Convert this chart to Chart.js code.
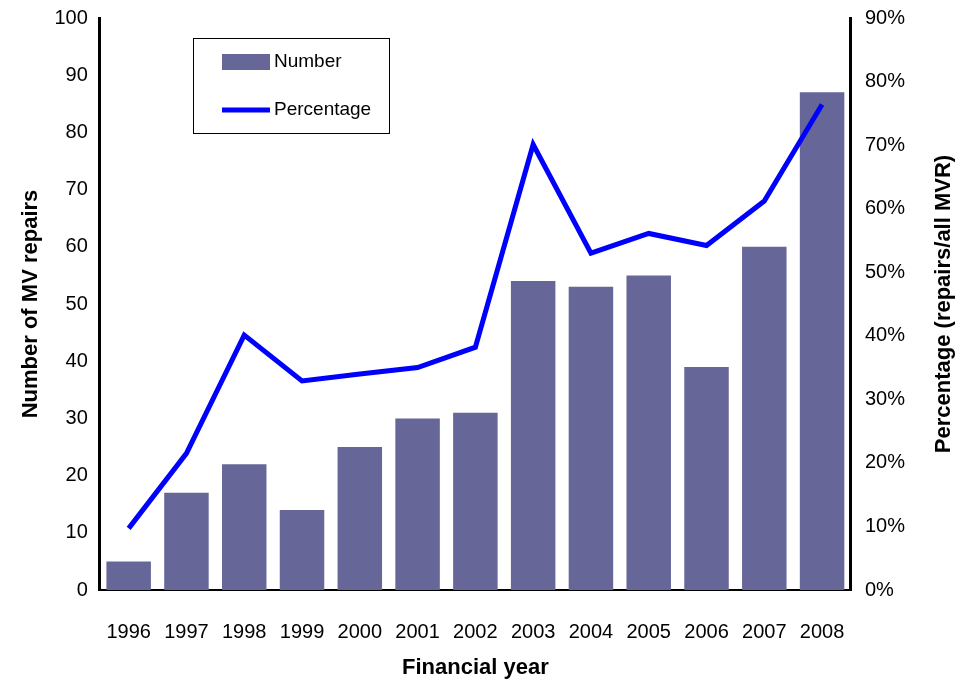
<!DOCTYPE html>
<html><head><meta charset="utf-8">
<script src="https://cdn.jsdelivr.net/npm/chart.js@4/dist/chart.umd.min.js"></script>
<style>html,body{margin:0;background:#fff}#w{width:962px;height:686px}</style>
</head><body><div id="w"><canvas id="c"></canvas></div>
<script>
const years=['1996','1997','1998','1999','2000','2001','2002','2003','2004','2005','2006','2007','2008'];
const numbers=[5,17,22,14,25,30,31,54,53,55,39,60,87];
const percentages=[9.7,21.5,40.1,32.9,34,35,38.2,70.1,53,56.1,54.2,61.2,76.4];
const leftTicks=[0,10,20,30,40,50,60,70,80,90,100];
const F='"Liberation Sans", Arial, sans-serif';
const legendPlugin={id:'lg',afterDraw(ch){const c=ch.ctx;c.save();
c.strokeStyle='#000';c.lineWidth=1;c.strokeRect(193.5,38.5,196,95);
c.fillStyle='#666699';c.fillRect(222,54,48,16);
c.strokeStyle='#0000ff';c.lineWidth=5;c.beginPath();c.moveTo(222,110);c.lineTo(270,110);c.stroke();
c.fillStyle='#000';c.font='19px '+F;c.textBaseline='middle';c.fillText('Number',274,62);c.fillText('Percentage',274,110);
const a=ch.chartArea;c.translate(944,(a.top+a.bottom)/2);c.rotate(-Math.PI/2);c.textAlign='center';
c.font='bold 22px '+F;c.fillText('Percentage (repairs/all MVR)',0,0);c.restore();}};
new Chart(document.getElementById('c'),{
data:{labels:years,datasets:[
{type:'line',label:'Percentage',data:percentages,yAxisID:'y1',borderColor:'#0000ff',borderWidth:5,pointRadius:0,tension:0,order:0},
{type:'bar',label:'Number',data:numbers,yAxisID:'y',backgroundColor:'#666699',categoryPercentage:1,barPercentage:0.77,order:1}]},
options:{responsive:true,maintainAspectRatio:false,animation:false,
layout:{padding:{top:9,right:51,bottom:0,left:14}},
plugins:{legend:{display:false},tooltip:{enabled:false}},
scales:{
x:{afterFit(a){a.height=96;},grid:{display:false,drawTicks:true},border:{color:'#000',width:2},ticks:{color:'#000',font:{family:F,size:20},maxRotation:0,autoSkip:false,padding:22},
title:{display:true,text:'Financial year',color:'#000',font:{family:F,size:22,weight:'bold'},padding:{top:0,bottom:5}}},
y:{position:'left',min:0,max:100,afterBuildTicks(a){a.ticks=leftTicks.map(v=>({value:v}));},
grid:{display:false,tickLength:6},border:{color:'#000',width:3},ticks:{color:'#000',font:{family:F,size:20},padding:6},
title:{display:true,text:'Number of MV repairs',color:'#000',font:{family:F,size:22,weight:'bold'}}},
y1:{position:'right',min:0,max:90,grid:{display:false},border:{color:'#000',width:3},
ticks:{stepSize:10,color:'#000',font:{family:F,size:20},padding:6,callback:v=>v+'%'}}}},
plugins:[legendPlugin]});
</script></body></html>
